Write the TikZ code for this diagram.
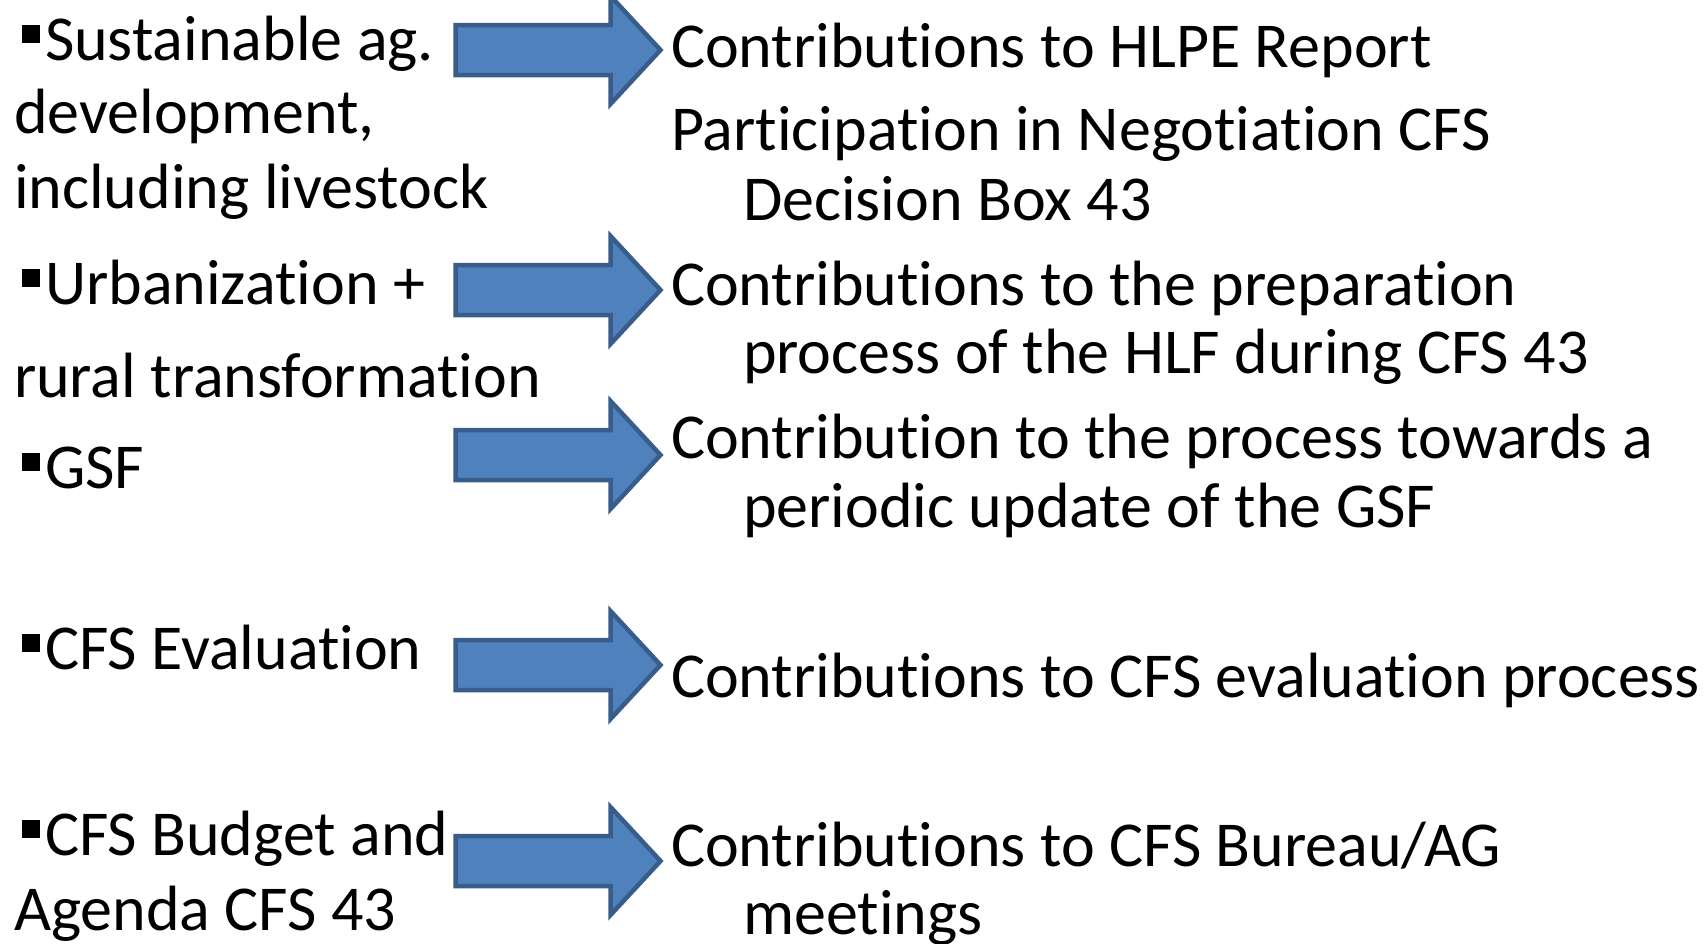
\documentclass[tikz,border=0pt]{standalone}
\usepackage{fontspec}
\setmainfont{Carlito}[Ligatures={NoCommon,NoDiscretionary},RawFeature={-liga;-dlig}]
\definecolor{arrowfill}{HTML}{4F81BD}
\definecolor{arrowline}{HTML}{385D8A}
\newcommand{\bul}{\hspace*{8pt}\rule[17pt]{18pt}{18pt}\hspace{5pt}}
\tikzset{
  txt/.style={anchor=base west, inner sep=0pt, outer sep=0pt, font=\fontsize{64}{70}\selectfont},
  blockarrow/.style={fill=arrowfill, draw=arrowline, line width=4.5pt, line join=miter},
}
\newcommand{\blockarrow}[1]{%
  \draw[blockarrow] (455.5,#1-25) -- (610.5,#1-25) -- (610.5,#1-54) -- (660.5,#1)
    -- (610.5,#1+54) -- (610.5,#1+25) -- (455.5,#1+25) -- cycle;}
\begin{document}
\begin{tikzpicture}[x=1pt,y=-1pt]
\useasboundingbox (0,0) rectangle (1708,943);
\fill[white] (0,0) rectangle (1708,943);
% left column
\node[txt] (l1a) at (14,60) {\bul Sustainable ag.};
\node[txt] (l1b) at (14,133) {development,};
\node[txt] (l1c) at (14,208) {including livestock};
\node[txt] (l2a) at (14,304) {\bul Urbanization +};
\node[txt] (l2b) at (14,397) {rural transformation};
\node[txt] (l3a) at (14,488) {\bul GSF};
\node[txt] (l4a) at (14,669) {\bul CFS Evaluation};
\node[txt] (l5a) at (14,855) {\bul CFS Budget and};
\node[txt] (l5b) at (14,930) {Agenda CFS 43};
% arrows
\blockarrow{50}
\blockarrow{290}
\blockarrow{455}
\blockarrow{665}
\blockarrow{861}
% right column
\node[txt] (r1a) at (671,67) {Contributions to HLPE Report};
\node[txt] (r1b) at (671,150) {Participation in Negotiation CFS};
\node[txt] (r1c) at (743,220) {Decision Box 43};
\node[txt] (r2a) at (671,305) {Contributions to the preparation};
\node[txt] (r2b) at (743,373) {process of the HLF during CFS 43};
\node[txt] (r3a) at (671,458) {Contribution to the process towards a};
\node[txt] (r3b) at (743,527) {periodic update of the GSF};
\node[txt] (r4a) at (671,697) {Contributions to CFS evaluation process};
\node[txt] (r5a) at (671,866) {Contributions to CFS Bureau/AG};
\node[txt] (r5b) at (743,934) {meetings};
\end{tikzpicture}
\end{document}
